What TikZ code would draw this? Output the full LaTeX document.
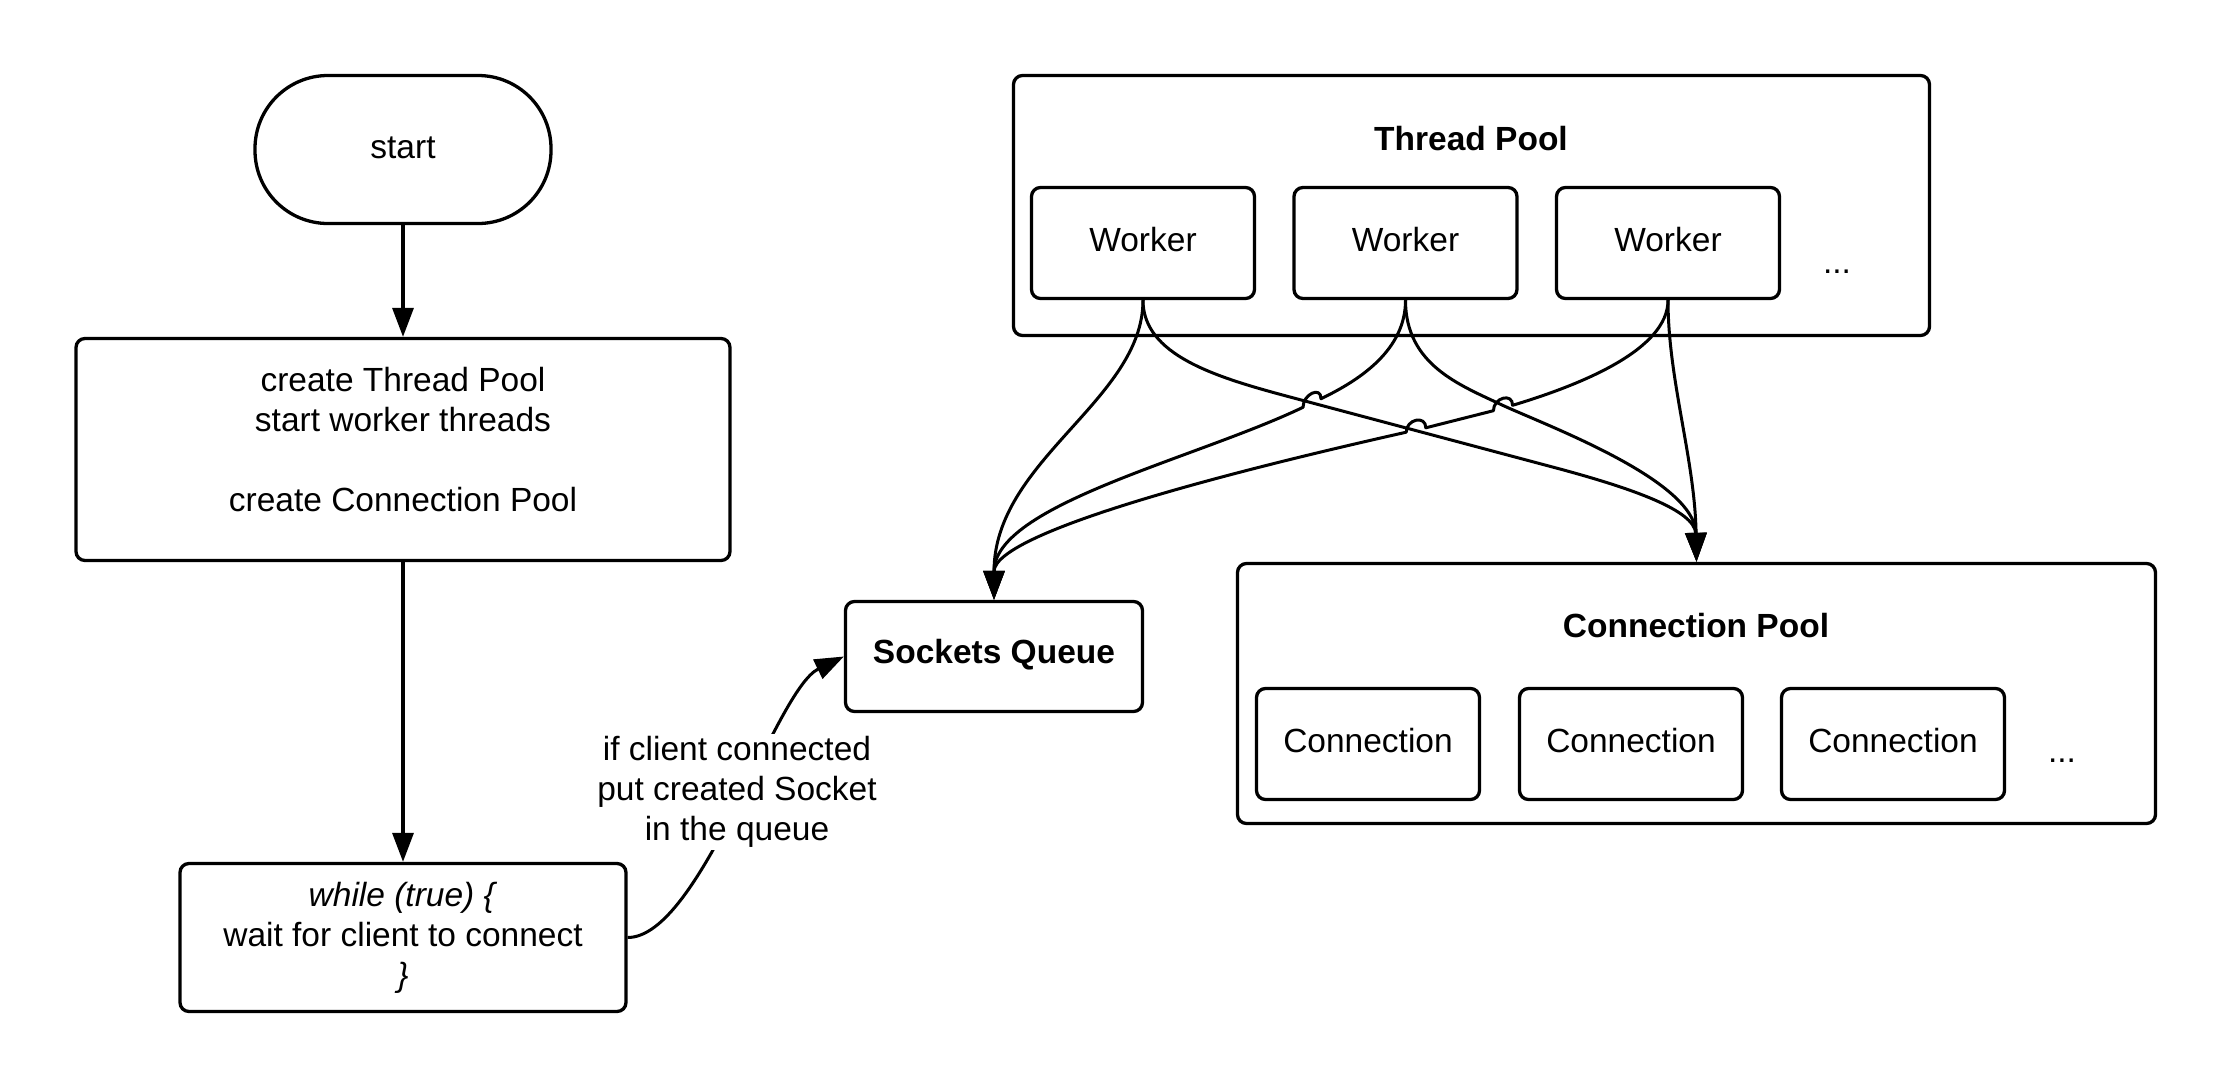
\documentclass[tikz,border=0pt]{standalone}
\usepackage{fontspec}
\setmainfont{Liberation Sans}
\usetikzlibrary{arrows.meta}
\newcommand\dfont{\fontsize{33.5}{40}\selectfont}
\begin{document}
\begin{tikzpicture}[x=1pt,y=-1pt,
  box/.style={draw, line width=3.3pt, rounded corners=9pt, align=center, font=\dfont},
  small/.style={box, minimum width=223pt, minimum height=111pt, text depth=8pt},
  ttl/.style={font=\dfont\bfseries},
  txt/.style={font=\dfont},
  arr/.style={line width=3.3pt, -{Triangle[length=29pt,width=21pt]}},
  conn/.style={line width=3pt, line join=round, -{Triangle[length=29pt,width=21pt]}}]
\useasboundingbox (0,0) rectangle (2231,1088);
% left flow
\node[box, minimum width=296pt, minimum height=148pt, rounded corners=73pt, text depth=3pt] (st) at (403,149.5) {start};
\node[box, minimum width=654pt, minimum height=222pt, text depth=20pt] (cr) at (403,449.5) {create Thread Pool\\start worker threads\\[40pt]create Connection Pool};
\node[box, minimum width=446pt, minimum height=148pt] (wh) at (403,937.5) {\textit{while (true) \{}\\wait for client to connect\\\textit{\}}};
\node[box, minimum width=297pt, minimum height=110pt, font=\dfont\bfseries, text depth=11pt] (sq) at (994,656.5) {Sockets Queue};
% thread pool
\node[box, minimum width=916pt, minimum height=260pt] (tp) at (1471.5,205.5) {};
\node[ttl] (tpt) at (1471,139) {Thread Pool};
\node[small] (w1) at (1143,243) {Worker};
\node[small] (w2) at (1405.5,243) {Worker};
\node[small] (w3) at (1668,243) {Worker};
\node[txt] (tpd) at (1837,272) {...};
% connection pool
\node[box, minimum width=918pt, minimum height=260pt] (cp) at (1696.5,693.5) {};
\node[ttl] (cpt) at (1696,626) {Connection Pool};
\node[small] (c1) at (1368,744) {Connection};
\node[small] (c2) at (1631,744) {Connection};
\node[small] (c3) at (1893,744) {Connection};
\node[txt] (cpd) at (2062,761) {...};
% flow arrows
\draw[arr] (st.south) -- (cr.north);
\draw[arr] (cr.south) -- (wh.north);
\draw[conn] (wh.east) .. controls (700,937.5) and (775,690) .. (sq.west);
\node[txt, align=center, fill=white, inner sep=2pt] (lbl) at (737,792) {if client connected\\put created Socket\\in the queue};
% worker connectors
\draw[conn] (w1.south) .. controls (1143,400) and (994,460) .. (sq.north);
\draw[conn] (w1.south) .. controls (1143,355) and (1215,377) .. (1290,397) -- (1560,469) .. controls (1630,488) and (1695,510) .. (cp.north);
\draw[conn] (w2.south) .. controls (1405.5,350) and (1360,380) .. (1321,398.7)
   .. controls (1321,385.7) and (1303,394.3) .. (1303,407.3)
   .. controls (1195,459) and (994,505) .. (sq.north);
\draw[conn] (w2.south) .. controls (1405.5,365) and (1460,385) .. (1502,405) .. controls (1545,425) and (1695,480) .. (cp.north);
\draw[conn] (w3.south) .. controls (1668,350) and (1580,385) .. (1512.6,405.3)
   .. controls (1512.6,392.3) and (1493.4,397.7) .. (1493.4,410.7) -- (1425.8,427.8)
   .. controls (1425.8,414.8) and (1406.2,419.2) .. (1406.2,432.2)
   .. controls (1260,465) and (994,530) .. (sq.north);
\draw[conn] (w3.south) .. controls (1668,380) and (1695,460) .. (cp.north);
\end{tikzpicture}
\end{document}
